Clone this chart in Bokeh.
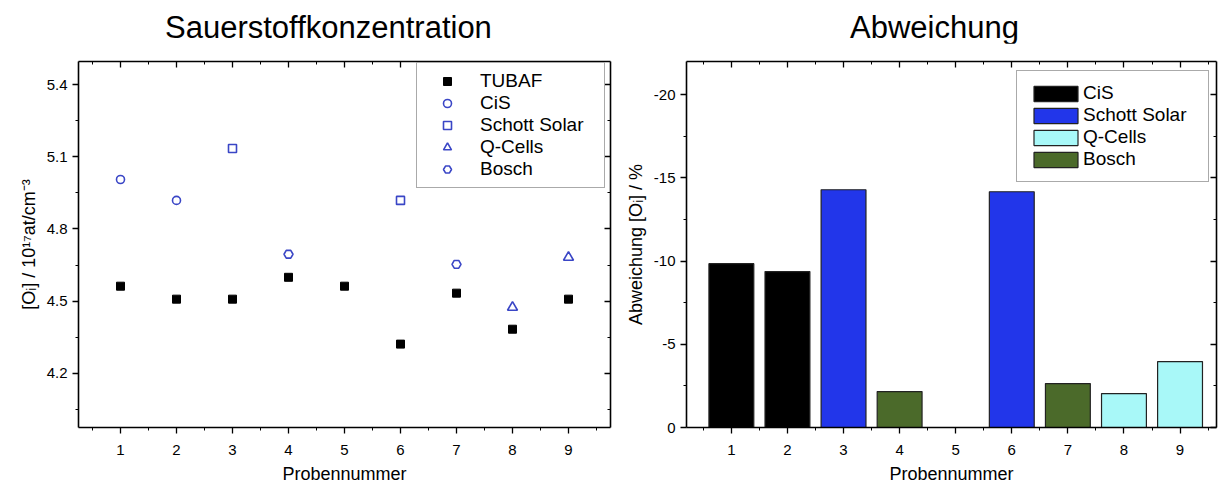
from bokeh.plotting import figure
from bokeh.layouts import row, column
from bokeh.models import Range1d, FixedTicker, LinearAxis, Legend, LegendItem, Div
from bokeh.embed import file_html
from bokeh.resources import INLINE

# ---------------- data ----------------
samples = [1, 2, 3, 4, 5, 6, 7, 8, 9]
tubaf_values = [4.562, 4.508, 4.508, 4.599, 4.562, 4.321, 4.533, 4.383, 4.508]

cis_samples = [1, 2]
cis_values = [5.006, 4.919]
schott_samples = [3, 6]
schott_values = [5.135, 4.919]
qcells_samples = [8, 9]
qcells_values = [4.474, 4.682]
bosch_samples = [4, 7]
bosch_values = [4.695, 4.653]

cis_dev = [-9.85, -9.37]
schott_dev = [-14.29, -14.17]
qcells_dev = [-2.04, -3.96]
bosch_dev = [-2.16, -2.64]

left_yticks = [4.2, 4.5, 4.8, 5.1, 5.4]
left_yminor = [4.05, 4.35, 4.65, 4.95, 5.25]
right_yticks = [0, -5, -10, -15, -20]
right_ylabels = ["0", "-5", "-10", "-15", "-20"]
right_yminor = [-2.5, -7.5, -12.5, -17.5]
xticks = [1, 2, 3, 4, 5, 6, 7, 8, 9]
xminor = [0.5, 1.5, 2.5, 3.5, 4.5, 5.5, 6.5, 7.5, 8.5, 9.5]

title_left = "Sauerstoffkonzentration"
title_right = "Abweichung"

FONT = "Liberation Sans"
BLUE = "#3a46c6"
C_CIS = "#000000"
C_SCHOTT = "#2236ea"
C_QCELLS = "#a8f8f8"
C_BOSCH = "#4b6a2a"
TITLE_H = 43


def style_axis(ax, ticks, minor, outward=True, labels=True):
    ax.ticker = FixedTicker(ticks=ticks, minor_ticks=minor)
    ax.axis_line_color = "black"
    ax.axis_line_width = 1.6
    ax.major_tick_line_color = "black"
    ax.minor_tick_line_color = "black"
    ax.major_tick_line_width = 1.3
    ax.minor_tick_line_width = 1.0
    if outward:
        ax.major_tick_out = 6
        ax.major_tick_in = 0
        ax.minor_tick_out = 3
        ax.minor_tick_in = 0
    else:
        ax.major_tick_out = 0
        ax.major_tick_in = 6
        ax.minor_tick_out = 0
        ax.minor_tick_in = 3
    if labels:
        ax.major_label_text_font = FONT
        ax.major_label_text_font_size = "15px"
        ax.major_label_text_color = "black"
        ax.axis_label_text_font = FONT
        ax.axis_label_text_font_size = "18px"
        ax.axis_label_text_font_style = "normal"
        ax.axis_label_text_color = "black"
    else:
        ax.major_label_text_font_size = "0px"
        ax.major_label_standoff = 0
        ax.major_label_text_color = None


def title_div(text, width, left):
    html = ('<div style="margin:0;padding:12px 0 0 %dpx;font-family:\'Liberation Sans\';'
            'font-size:31px;line-height:31px;color:black;white-space:nowrap;">%s</div>'
            % (left, text))
    return Div(text=html, width=width, height=TITLE_H, margin=(0, 0, 0, 0))


def base_fig(width, x_range, y_range, mb_left, mb_right):
    p = figure(width=width, height=486 - TITLE_H, x_range=x_range, y_range=y_range,
               output_backend="svg", toolbar_location=None,
               min_border_left=mb_left, min_border_right=mb_right,
               min_border_top=61 - TITLE_H, min_border_bottom=59)
    p.xgrid.visible = False
    p.ygrid.visible = False
    p.outline_line_color = None
    p.background_fill_color = "white"
    p.border_fill_color = "white"
    p.xaxis.axis_label = "Probennummer"
    style_axis(p.xaxis[0], xticks, xminor)
    p.xaxis.major_label_standoff = 11
    p.xaxis.axis_label_standoff = 6
    return p


def style_legend(leg):
    leg.label_text_font = FONT
    leg.label_text_font_size = "19px"
    leg.label_text_color = "black"
    leg.margin = 0
    leg.border_line_color = "#555555"
    leg.border_line_width = 1.2
    leg.background_fill_alpha = 1.0


# ---------------- left chart ----------------
p1 = base_fig(620, Range1d(0.25, 9.75), Range1d(3.974, 5.497), 78, 10)
style_axis(p1.yaxis[0], left_yticks, left_yminor)
p1.yaxis.axis_label = "[O\u1d62] / 10\u00b9\u2077at/cm\u207b\u00b3"
top1 = LinearAxis()
style_axis(top1, xticks, xminor, outward=False, labels=False)
p1.add_layout(top1, "above")
right1 = LinearAxis()
style_axis(right1, left_yticks, left_yminor, outward=False, labels=False)
p1.add_layout(right1, "right")

r_tubaf = p1.scatter(samples, tubaf_values, marker="square", size=8,
                     fill_color="black", line_color="black")
r_cis = p1.scatter(cis_samples, cis_values, marker="circle", size=8,
                   fill_color=None, line_color=BLUE, line_width=1.6)
r_schott = p1.scatter(schott_samples, schott_values, marker="square", size=8,
                      fill_color=None, line_color=BLUE, line_width=1.6)
r_qcells = p1.scatter(qcells_samples, qcells_values, marker="triangle", size=10,
                      fill_color=None, line_color=BLUE, line_width=1.6)
r_bosch = p1.scatter(bosch_samples, bosch_values, marker="hex", size=9,
                     fill_color=None, line_color=BLUE, line_width=1.6)

leg1 = Legend(items=[
    LegendItem(label="TUBAF", renderers=[r_tubaf]),
    LegendItem(label="CiS", renderers=[r_cis]),
    LegendItem(label="Schott Solar", renderers=[r_schott]),
    LegendItem(label="Q-Cells", renderers=[r_qcells]),
    LegendItem(label="Bosch", renderers=[r_bosch]),
], location=(338, 239))
style_legend(leg1)
leg1.glyph_width = 46
leg1.glyph_height = 20
leg1.label_standoff = 10
leg1.label_width = 117
leg1.padding = 7
leg1.spacing = 0
p1.add_layout(leg1, "center")

# ---------------- right chart ----------------
p2 = base_fig(598, Range1d(0.2, 9.65), Range1d(0, -22), 66, 2)
style_axis(p2.yaxis[0], right_yticks, right_yminor)
p2.yaxis[0].major_label_overrides = dict(zip(right_yticks, right_ylabels))
p2.yaxis.axis_label = "Abweichung [O\u1d62] / %"
top2 = LinearAxis()
style_axis(top2, xticks, xminor, outward=False, labels=False)
p2.add_layout(top2, "above")
right2 = LinearAxis()
style_axis(right2, right_yticks, right_yminor, outward=False, labels=False)
p2.add_layout(right2, "right")

bar_kw = dict(width=0.8, bottom=0, line_color="#222222", line_width=1.2)
b_cis = p2.vbar(x=cis_samples, top=cis_dev, fill_color=C_CIS, **bar_kw)
b_schott = p2.vbar(x=schott_samples, top=schott_dev, fill_color=C_SCHOTT, **bar_kw)
b_qcells = p2.vbar(x=qcells_samples, top=qcells_dev, fill_color=C_QCELLS, **bar_kw)
b_bosch = p2.vbar(x=bosch_samples, top=bosch_dev, fill_color=C_BOSCH, **bar_kw)

leg2 = Legend(items=[
    LegendItem(label="CiS", renderers=[b_cis]),
    LegendItem(label="Schott Solar", renderers=[b_schott]),
    LegendItem(label="Q-Cells", renderers=[b_qcells]),
    LegendItem(label="Bosch", renderers=[b_bosch]),
], location=(330, 245))
style_legend(leg2)
leg2.glyph_width = 55
leg2.glyph_height = 19
leg2.label_standoff = 0
leg2.label_width = 114
leg2.padding = 11
leg2.spacing = 0
p2.add_layout(leg2, "center")

layout = column(
    row(title_div(title_left, 620, 165), title_div(title_right, 598, 230)),
    row(p1, p2),
)
open("out.html", "w").write(file_html(layout, INLINE))
